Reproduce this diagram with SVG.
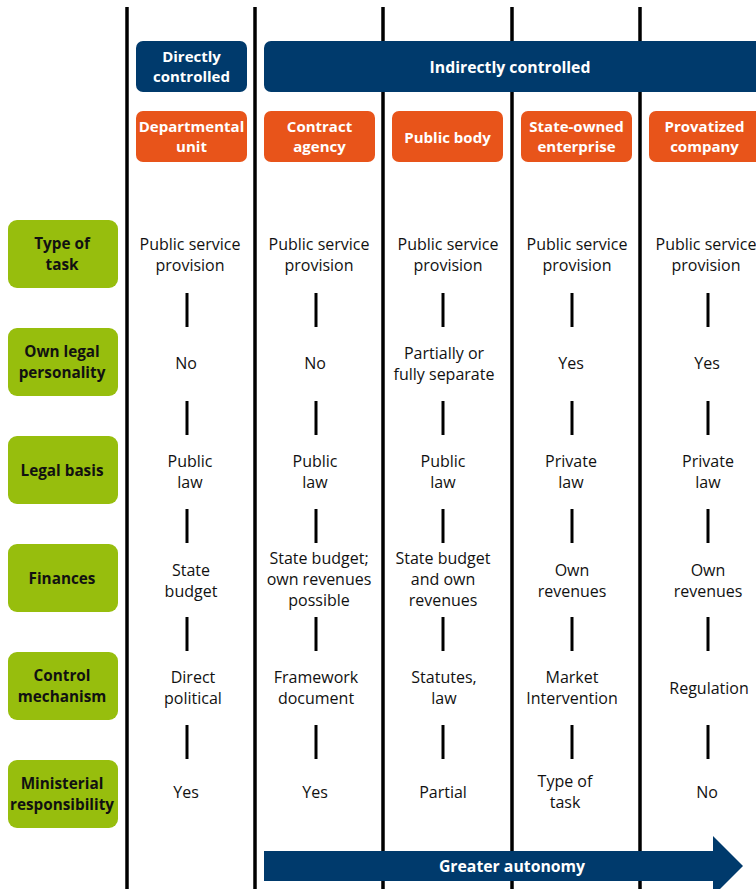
<svg xmlns="http://www.w3.org/2000/svg" width="756" height="889" viewBox="0 0 756 889">
<style>
.navy{fill:#003a6c}
.orange{fill:#e8541a}
.green{fill:#97be0d}
.hd{font-family:"Open Sans","Noto Sans",sans-serif;font-weight:bold;font-size:15px;fill:#fff;text-anchor:middle}
.big{font-size:15.8px}
.lb{font-family:"Open Sans","Noto Sans",sans-serif;font-weight:bold;font-size:15.3px;fill:#111;text-anchor:middle}
.cell{font-family:"Open Sans","Noto Sans",sans-serif;font-size:16px;fill:#111;text-anchor:middle}
.vl{stroke:#000;stroke-width:3.5}
.dash{stroke:#000;stroke-width:3}
</style>
<rect width="756" height="889" fill="#fff"/>
<g id="columns">
<line class="vl" x1="127" y1="7" x2="127" y2="889"/>
<line class="vl" x1="255" y1="7" x2="255" y2="889"/>
<line class="vl" x1="383" y1="7" x2="383" y2="889"/>
<line class="vl" x1="512" y1="7" x2="512" y2="889"/>
<line class="vl" x1="640" y1="7" x2="640" y2="889"/>
</g>
<g id="directly">
<rect class="navy" x="136" y="41" width="111" height="51" rx="7"/>
<text class="hd" x="191.5" y="62">Directly</text>
<text class="hd" x="191.5" y="82">controlled</text>
</g>
<g id="indirectly">
<rect class="navy" x="264" y="41" width="500" height="51" rx="7"/>
<text class="hd big" x="510" y="73">Indirectly controlled</text>
</g>
<g id="departmental">
<rect class="orange" x="136" y="111" width="111" height="51" rx="7"/>
<text class="hd" x="191.5" y="132">Departmental</text>
<text class="hd" x="191.5" y="152">unit</text>
</g>
<g id="contract">
<rect class="orange" x="264" y="111" width="111" height="51" rx="7"/>
<text class="hd" x="319.5" y="132">Contract</text>
<text class="hd" x="319.5" y="152">agency</text>
</g>
<g id="publicbody">
<rect class="orange" x="392" y="111" width="111" height="51" rx="7"/>
<text class="hd" x="447.5" y="143">Public body</text>
</g>
<g id="stateowned">
<rect class="orange" x="521" y="111" width="111" height="51" rx="7"/>
<text class="hd" x="576.5" y="132">State-owned</text>
<text class="hd" x="576.5" y="152">enterprise</text>
</g>
<g id="provatized">
<rect class="orange" x="649" y="111" width="115" height="51" rx="7"/>
<text class="hd" x="704.5" y="132">Provatized</text>
<text class="hd" x="704.5" y="152">company</text>
</g>
<g id="row-type">
<rect class="green" x="8" y="220" width="110" height="68" rx="9"/>
<text class="lb" x="62" y="249">Type of</text>
<text class="lb" x="62" y="270">task</text>
</g>
<g id="row-legalpers">
<rect class="green" x="8" y="328" width="110" height="68" rx="9"/>
<text class="lb" x="62" y="357">Own legal</text>
<text class="lb" x="62" y="378">personality</text>
</g>
<g id="row-legalbasis">
<rect class="green" x="8" y="436" width="110" height="68" rx="9"/>
<text class="lb" x="62" y="476">Legal basis</text>
</g>
<g id="row-finances">
<rect class="green" x="8" y="544" width="110" height="68" rx="9"/>
<text class="lb" x="62" y="584">Finances</text>
</g>
<g id="row-control">
<rect class="green" x="8" y="652" width="110" height="68" rx="9"/>
<text class="lb" x="62" y="681">Control</text>
<text class="lb" x="62" y="702">mechanism</text>
</g>
<g id="row-ministerial">
<rect class="green" x="8" y="760" width="110" height="68" rx="9"/>
<text class="lb" x="62" y="789">Ministerial</text>
<text class="lb" x="62" y="810">responsibility</text>
</g>
<g id="dashes">
<line class="dash" x1="187" y1="293" x2="187" y2="327"/>
<line class="dash" x1="187" y1="401" x2="187" y2="435"/>
<line class="dash" x1="187" y1="509" x2="187" y2="543"/>
<line class="dash" x1="187" y1="617" x2="187" y2="651"/>
<line class="dash" x1="187" y1="725" x2="187" y2="759"/>
<line class="dash" x1="316" y1="293" x2="316" y2="327"/>
<line class="dash" x1="316" y1="401" x2="316" y2="435"/>
<line class="dash" x1="316" y1="509" x2="316" y2="543"/>
<line class="dash" x1="316" y1="617" x2="316" y2="651"/>
<line class="dash" x1="316" y1="725" x2="316" y2="759"/>
<line class="dash" x1="443" y1="293" x2="443" y2="327"/>
<line class="dash" x1="443" y1="401" x2="443" y2="435"/>
<line class="dash" x1="443" y1="509" x2="443" y2="543"/>
<line class="dash" x1="443" y1="617" x2="443" y2="651"/>
<line class="dash" x1="443" y1="725" x2="443" y2="759"/>
<line class="dash" x1="572" y1="293" x2="572" y2="327"/>
<line class="dash" x1="572" y1="401" x2="572" y2="435"/>
<line class="dash" x1="572" y1="509" x2="572" y2="543"/>
<line class="dash" x1="572" y1="617" x2="572" y2="651"/>
<line class="dash" x1="572" y1="725" x2="572" y2="759"/>
<line class="dash" x1="708" y1="293" x2="708" y2="327"/>
<line class="dash" x1="708" y1="401" x2="708" y2="435"/>
<line class="dash" x1="708" y1="509" x2="708" y2="543"/>
<line class="dash" x1="708" y1="617" x2="708" y2="651"/>
<line class="dash" x1="708" y1="725" x2="708" y2="759"/>
</g>
<g id="cells">
<text class="cell" x="190" y="250">Public service</text>
<text class="cell" x="190" y="271">provision</text>
<text class="cell" x="319" y="250">Public service</text>
<text class="cell" x="319" y="271">provision</text>
<text class="cell" x="448" y="250">Public service</text>
<text class="cell" x="448" y="271">provision</text>
<text class="cell" x="577" y="250">Public service</text>
<text class="cell" x="577" y="271">provision</text>
<text class="cell" x="706" y="250">Public service</text>
<text class="cell" x="706" y="271">provision</text>

<text class="cell" x="186" y="369">No</text>
<text class="cell" x="315" y="369">No</text>
<text class="cell" x="444" y="359">Partially or</text>
<text class="cell" x="444" y="380">fully separate</text>
<text class="cell" x="571" y="369">Yes</text>
<text class="cell" x="707" y="369">Yes</text>

<text class="cell" x="190" y="467">Public</text>
<text class="cell" x="190" y="488">law</text>
<text class="cell" x="315" y="467">Public</text>
<text class="cell" x="315" y="488">law</text>
<text class="cell" x="443" y="467">Public</text>
<text class="cell" x="443" y="488">law</text>
<text class="cell" x="571" y="467">Private</text>
<text class="cell" x="571" y="488">law</text>
<text class="cell" x="708" y="467">Private</text>
<text class="cell" x="708" y="488">law</text>

<text class="cell" x="191" y="576">State</text>
<text class="cell" x="191" y="597">budget</text>
<text class="cell" x="319" y="564">State budget;</text>
<text class="cell" x="319" y="585">own revenues</text>
<text class="cell" x="319" y="606">possible</text>
<text class="cell" x="443" y="564">State budget</text>
<text class="cell" x="443" y="585">and own</text>
<text class="cell" x="443" y="606">revenues</text>
<text class="cell" x="572" y="576">Own</text>
<text class="cell" x="572" y="597">revenues</text>
<text class="cell" x="708" y="576">Own</text>
<text class="cell" x="708" y="597">revenues</text>

<text class="cell" x="193" y="683">Direct</text>
<text class="cell" x="193" y="704">political</text>
<text class="cell" x="316" y="683">Framework</text>
<text class="cell" x="316" y="704">document</text>
<text class="cell" x="444" y="683">Statutes,</text>
<text class="cell" x="444" y="704">law</text>
<text class="cell" x="572" y="683">Market</text>
<text class="cell" x="572" y="704">Intervention</text>
<text class="cell" x="709" y="694">Regulation</text>

<text class="cell" x="186" y="798">Yes</text>
<text class="cell" x="315" y="798">Yes</text>
<text class="cell" x="443" y="798">Partial</text>
<text class="cell" x="565" y="787">Type of</text>
<text class="cell" x="565" y="808">task</text>
<text class="cell" x="707" y="798">No</text>
</g>
<g id="autonomy-arrow">
<path class="navy" d="M264 851 H713 V836 L743 866 L713 896 V881 H264 Z"/>
<text class="hd big" x="512" y="872">Greater autonomy</text>
</g>
</svg>
